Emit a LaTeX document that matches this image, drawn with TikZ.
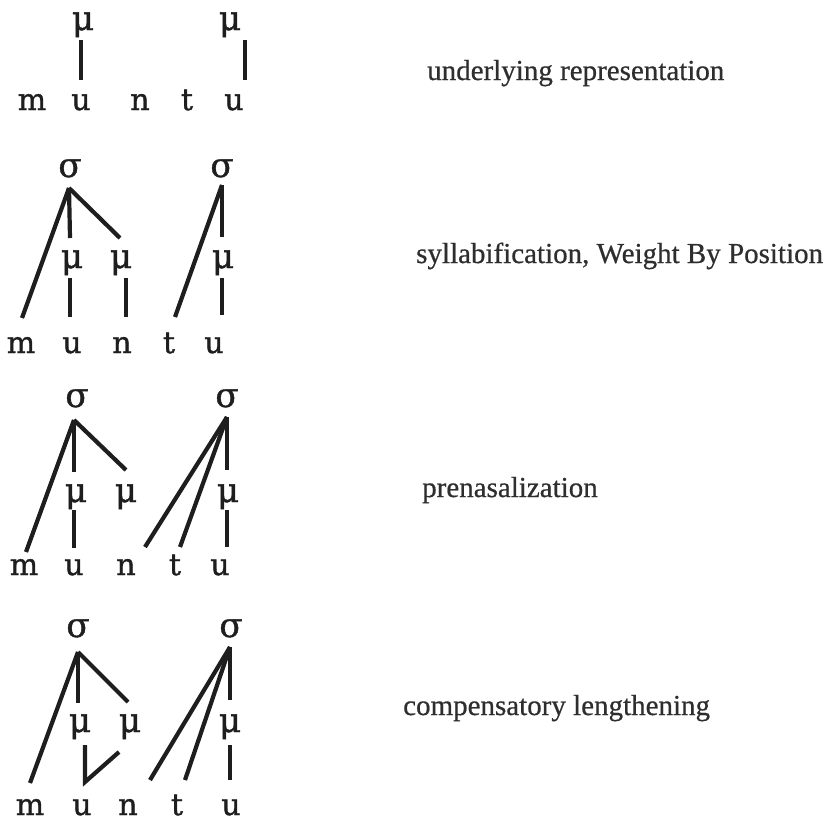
\documentclass[tikz,border=0pt]{standalone}
\usepackage{fontspec}
\setmainfont{Liberation Serif}
\newfontfamily\treefont[FakeBold=1.2]{DejaVu Serif}
\newfontfamily\stagefont[FakeBold=0.6]{Liberation Serif}
\definecolor{ink}{HTML}{1E1E1E}
\definecolor{caption}{HTML}{2E2E2E}
\begin{document}
\begin{tikzpicture}[x=1pt,y=-1pt,
  seg/.style={anchor=base, inner sep=0pt, text=ink, font=\treefont\fontsize{30}{34}\selectfont},
  prosody/.style={anchor=base, inner sep=0pt, text=ink, font=\treefont\fontsize{34}{38}\selectfont},
  stage/.style={anchor=base west, inner sep=0pt, text=caption, font=\stagefont\fontsize{29}{32}\selectfont},
  assoc/.style={draw=ink, line width=4.2pt, line cap=butt}]
\useasboundingbox (0,0) rectangle (827,823);

% ---------- stage 1: underlying representation ----------
\node[prosody] (amu1) at (83,30) {μ};
\node[prosody] (amu2) at (230,30) {μ};
\node[seg] (am) at (32,110) {m};
\node[seg] (au) at (81,110) {u};
\node[seg] (an) at (140,110) {n};
\node[seg] (at) at (187,110) {t};
\node[seg] (au2) at (234,110) {u};
\draw[assoc] ([xshift=-2pt,yshift=-10pt]amu1.base) -- ([yshift=30pt]au.base);
\draw[assoc] ([xshift=15pt,yshift=-10pt]amu2.base) -- ([xshift=11pt,yshift=30pt]au2.base);
\node[stage] (alab) at (427,80) {underlying representation};

% ---------- stage 2: syllabification ----------
\node[prosody] (bs1) at (70,177) {σ};
\node[prosody] (bs2) at (222,177) {σ};
\node[prosody] (bmu1) at (72,268) {μ};
\node[prosody] (bmu2) at (121,268) {μ};
\node[prosody] (bmu3) at (223,268) {μ};
\node[seg] (bm) at (21,353) {m};
\node[seg] (bu) at (72,353) {u};
\node[seg] (bn) at (122,353) {n};
\node[seg] (bt) at (169,353) {t};
\node[seg] (bu2) at (214,353) {u};
\draw[assoc] ([xshift=-1pt,yshift=-11pt]bs1.base) -- ([xshift=1pt,yshift=35pt]bm.base);
\draw[assoc] ([xshift=-1pt,yshift=-11pt]bs1.base) -- ([xshift=-2pt,yshift=30pt]bmu1.base);
\draw[assoc] ([xshift=-1pt,yshift=-11pt]bs1.base) -- ([xshift=-1pt,yshift=30pt]bmu2.base);
\draw[assoc] ([xshift=-2pt,yshift=-10pt]bmu1.base) -- ([xshift=-2pt,yshift=36pt]bu.base);
\draw[assoc] ([xshift=5pt,yshift=-10pt]bmu2.base) -- ([xshift=4pt,yshift=36pt]bn.base);
\draw[assoc] ([yshift=-8pt]bs2.base) -- ([xshift=6pt,yshift=36pt]bt.base);
\draw[assoc] ([yshift=-8pt]bs2.base) -- ([xshift=-1pt,yshift=31pt]bmu3.base);
\draw[assoc] ([xshift=-1pt,yshift=-10pt]bmu3.base) -- ([xshift=8pt,yshift=38pt]bu2.base);
\node[stage] (blab) at (416,263) {syllabification, Weight By Position};

% ---------- stage 3: prenasalization ----------
\node[prosody] (cs1) at (77,407) {σ};
\node[prosody] (cs2) at (227,407) {σ};
\node[prosody] (cmu1) at (76,502) {μ};
\node[prosody] (cmu2) at (126,502) {μ};
\node[prosody] (cmu3) at (228,502) {μ};
\node[seg] (cm) at (24,575) {m};
\node[seg] (cu) at (74,575) {u};
\node[seg] (cn) at (126,575) {n};
\node[seg] (ct) at (175,575) {t};
\node[seg] (cu2) at (220,575) {u};
\draw[assoc] ([xshift=-3pt,yshift=-13pt]cs1.base) -- ([xshift=2pt,yshift=23pt]cm.base);
\draw[assoc] ([xshift=-3pt,yshift=-13pt]cs1.base) -- ([xshift=-2pt,yshift=30pt]cmu1.base);
\draw[assoc] ([xshift=-3pt,yshift=-13pt]cs1.base) -- ([yshift=32pt]cmu2.base);
\draw[assoc] ([xshift=-2pt,yshift=-8pt]cmu1.base) -- ([yshift=27pt]cu.base);
\draw[assoc] ([yshift=-10pt]cs2.base) -- ([xshift=19pt,yshift=28pt]cn.base);
\draw[assoc] ([yshift=-10pt]cs2.base) -- ([xshift=5pt,yshift=28pt]ct.base);
\draw[assoc] ([yshift=-10pt]cs2.base) -- ([xshift=-1pt,yshift=32pt]cmu3.base);
\draw[assoc] ([xshift=-1pt,yshift=-8pt]cmu3.base) -- ([xshift=7pt,yshift=28pt]cu2.base);
\node[stage] (clab) at (422,497) {prenasalization};

% ---------- stage 4: compensatory lengthening ----------
\node[prosody] (ds1) at (78,637) {σ};
\node[prosody] (ds2) at (231,637) {σ};
\node[prosody] (dmu1) at (80,732) {μ};
\node[prosody] (dmu2) at (130,732) {μ};
\node[prosody] (dmu3) at (230,732) {μ};
\node[seg] (dm) at (30,815) {m};
\node[seg] (du) at (82,815) {u};
\node[seg] (dn) at (128,815) {n};
\node[seg] (dt) at (177,815) {t};
\node[seg] (du2) at (231,815) {u};
\draw[assoc] ([yshift=-15pt]ds1.base) -- ([yshift=32pt]dm.base);
\draw[assoc] ([yshift=-15pt]ds1.base) -- ([xshift=-2pt,yshift=29pt]dmu1.base);
\draw[assoc] ([yshift=-15pt]ds1.base) -- ([xshift=-2pt,yshift=30pt]dmu2.base);
\draw[assoc] ([xshift=5pt,yshift=-13pt]dmu1.base) -- ([xshift=3pt,yshift=33pt]du.base)
  -- ([xshift=-11pt,yshift=-20pt]dmu2.base);
\draw[assoc] ([xshift=-1pt,yshift=-10pt]ds2.base) -- ([xshift=22pt,yshift=35pt]dn.base);
\draw[assoc] ([xshift=-1pt,yshift=-10pt]ds2.base) -- ([xshift=8pt,yshift=35pt]dt.base);
\draw[assoc] ([xshift=-1pt,yshift=-10pt]ds2.base) -- ([yshift=32pt]dmu3.base);
\draw[assoc] ([yshift=-13pt]dmu3.base) -- ([xshift=-1pt,yshift=35pt]du2.base);
\node[stage] (dlab) at (403,715) {compensatory lengthening};
\end{tikzpicture}
\end{document}
